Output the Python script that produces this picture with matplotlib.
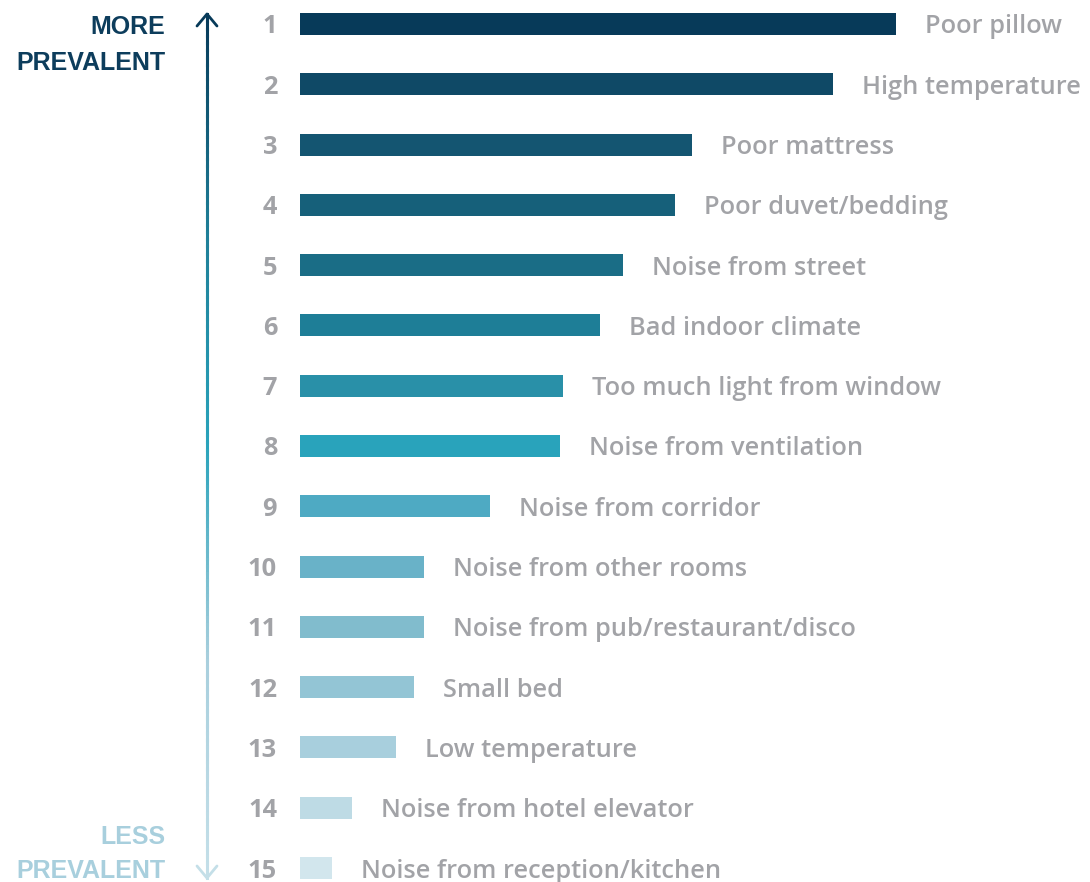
import numpy as np
import matplotlib.pyplot as plt
from matplotlib.collections import LineCollection
from matplotlib.colors import LinearSegmentedColormap

plt.rcParams['font.family'] = ['Open Sans', 'DejaVu Sans']

# Data: rank, label, relative prevalence (bar length)
ranks = list(range(1, 16))
labels = ['Poor pillow', 'High temperature', 'Poor mattress', 'Poor duvet/bedding',
          'Noise from street', 'Bad indoor climate', 'Too much light from window',
          'Noise from ventilation', 'Noise from corridor', 'Noise from other rooms',
          'Noise from pub/restaurant/disco', 'Small bed', 'Low temperature',
          'Noise from hotel elevator', 'Noise from reception/kitchen']
values = [596, 533, 392, 375, 323, 300, 263, 260, 190, 124, 124, 114, 96, 52, 32]
colors = ['#073a59', '#0f4966', '#145571', '#16607a', '#1a6d86', '#1e7e97',
          '#2990a8', '#29a3bb', '#4eaac3', '#69b2c8', '#81bccd', '#93c5d5',
          '#a8cfdd', '#bedbe5', '#d2e6ed']

W, H = 1090, 882
fig = plt.figure(figsize=(W / 100, H / 100), dpi=100)

# bar axes: 1 data unit = 1 pixel horizontally
ax = fig.add_axes([300 / W, 0, 790 / W, 1])
ax.set_xlim(0, 790)
ax.set_ylim(15 + 14 / 60.29, 1 - 24 / 60.29)
ax.barh(ranks, values, height=0.365, color=colors)
for r, v, lab in zip(ranks, values, labels):
    ax.text(v + 29, r, lab, va='center_baseline', ha='left', fontsize=18.3,
            fontweight='semibold', color='#a2a3a7')
    ax.text(-23, r, str(r), va='center_baseline', ha='right', fontsize=18.3,
            fontweight='bold', color='#a2a3a7')
ax.axis('off')

# gradient arrow on the left, in pixel coords
arr = fig.add_axes([0, 0, 1, 1])
arr.set_xlim(0, W)
arr.set_ylim(H, 0)
arr.axis('off')
cmap = LinearSegmentedColormap.from_list('prev', ['#073a59', '#1e7e97', '#29a3bb', '#a8cfdd', '#c4dfe8'])
ys = np.linspace(14, 878, 120)
segs = [[(207, ys[i]), (207, ys[i + 1])] for i in range(len(ys) - 1)]
lc = LineCollection(segs, colors=cmap(np.linspace(0, 1, len(segs))), linewidth=2.2,
                    capstyle='projecting')
arr.add_collection(lc)
arr.plot([197, 207, 217], [26, 14, 26], color='#073a59', lw=2, solid_capstyle='round')
arr.plot([197, 207, 217], [866, 878, 866], color='#c4dfe8', lw=2, solid_capstyle='round')

side = dict(ha='right', va='center_baseline', fontsize=18, fontweight='bold',
            family=['Liberation Sans', 'DejaVu Sans'])
arr.text(165, 25, 'MORE', color='#0d3d5c', **side)
arr.text(165, 61, 'PREVALENT', color='#0d3d5c', **side)
arr.text(165, 834, 'LESS', color='#a8cfdd', **side)
arr.text(165, 868, 'PREVALENT', color='#a8cfdd', **side)

fig.savefig('out.png', dpi=100)
